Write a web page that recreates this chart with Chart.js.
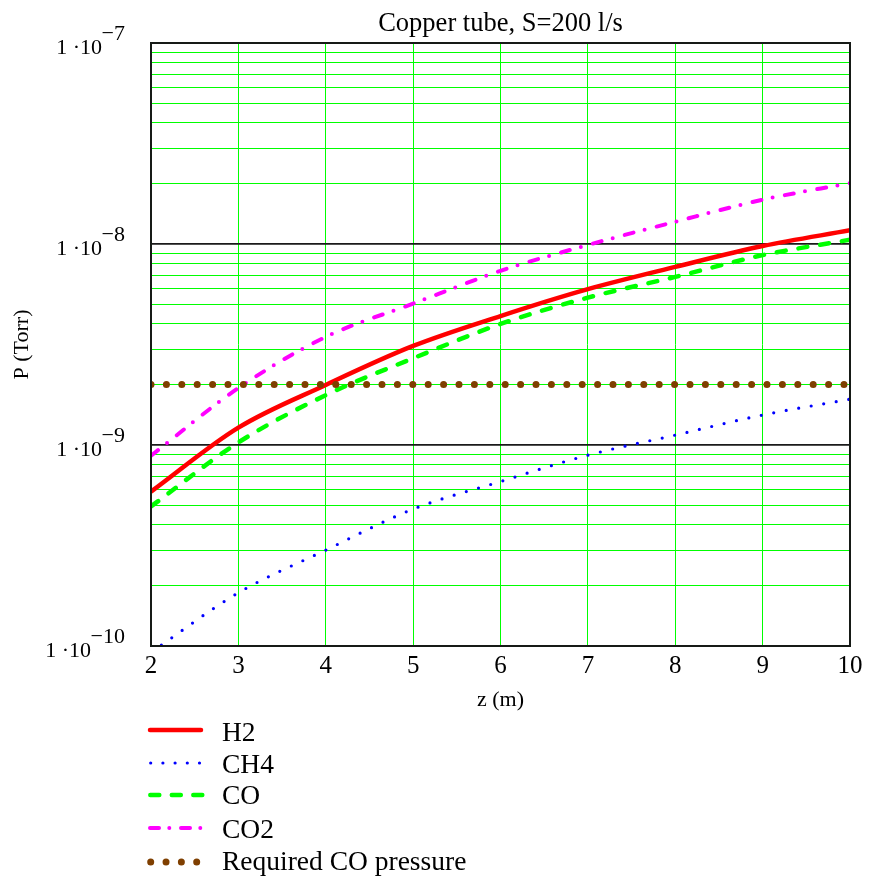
<!DOCTYPE html>
<html><head><meta charset="utf-8">
<script src="https://cdn.jsdelivr.net/npm/chart.js@4.4.1/dist/chart.umd.min.js"></script>
<style>
html,body{margin:0;padding:0;background:#fff;}
#wrap{position:relative;width:869px;height:880px;overflow:hidden;background:#fff;}
#c{position:absolute;left:0;top:0;}
.lg-s{position:absolute;left:145px;width:62px;height:12px;}
.lg-t{position:absolute;left:222px;font-family:'Liberation Serif','Times New Roman',serif;font-size:27.5px;line-height:28px;white-space:nowrap;color:#000;}
</style></head><body>
<div id="wrap"><canvas id="c" width="869" height="880"></canvas><div id="legend"></div></div>
<script>
// ---- data ----
const zValues   = [2, 3, 4, 5, 6, 7, 8, 9, 10];
const h2Values  = [5.86e-10, 1.22e-9, 1.99e-9, 3.11e-9, 4.38e-9, 5.96e-9, 7.69e-9, 9.77e-9, 1.17e-8];
const ch4Values = [9.3e-11, 1.84e-10, 3.0e-10, 4.8e-10, 6.58e-10, 8.9e-10, 1.12e-9, 1.41e-9, 1.69e-9];
const coValues  = [4.95e-10, 1.03e-9, 1.77e-9, 2.7e-9, 4.0e-9, 5.41e-9, 6.86e-9, 8.8e-9, 1.05e-8];
const co2Values = [8.85e-10, 1.92e-9, 3.45e-9, 5.05e-9, 7.35e-9, 9.89e-9, 1.29e-8, 1.66e-8, 2.01e-8];
const reqValues = [2e-9, 2e-9, 2e-9, 2e-9, 2e-9, 2e-9, 2e-9, 2e-9, 2e-9];
const seriesLabels = ['H2', 'CH4', 'CO', 'CO2', 'Required CO pressure'];
const xTicks = [2, 3, 4, 5, 6, 7, 8, 9, 10];
const yDecades = [1e-10, 1e-9, 1e-8, 1e-7];
const yTickBase = '1 \u00b710';
const yTickExp = ['\u221210', '\u22129', '\u22128', '\u22127'];
const titleText = 'Copper tube, S=200 l/s';
const xTitle = 'z (m)';
const yTitle = 'P (Torr)';

// ---- helpers ----
const GREEN = '#00ff00';
const FONT = "'Liberation Serif','Times New Roman',serif";
const isDecade = v => Math.abs(Math.log10(v) - Math.round(Math.log10(v))) < 1e-6;
const yGridValues = [];
for (let d = 0; d < yDecades.length; d++) {
  const base = yDecades[d];
  if (d === yDecades.length - 1) { yGridValues.push(base); break; }
  for (let m = 1; m <= 9; m++) yGridValues.push(parseFloat((m * base).toPrecision(6)));
}
const mk = vals => zValues.map((z, i) => ({x: z, y: vals[i]}));

Chart.defaults.font.family = FONT;
Chart.defaults.color = '#000';

const yLabelPlugin = {
  id: 'yLabels',
  afterDraw(chart) {
    const ctx = chart.ctx, ys = chart.scales.y;
    ctx.save();
    ctx.fillStyle = '#000';
    ctx.textBaseline = 'alphabetic';
    ctx.textAlign = 'right';
    ctx.font = '22px ' + FONT;
    yDecades.forEach((v, i) => {
      const py = ys.getPixelForValue(v);
      const ew = ctx.measureText(yTickExp[i]).width;
      ctx.fillText(yTickExp[i], 125, py - 3);
      ctx.fillText(yTickBase, 125 - ew + 0.5, py + 10.5);
    });
    ctx.restore();
  }
};
const borderPlugin = {
  id: 'plotBorder',
  afterDatasetsDraw(chart) {
    const a = chart.chartArea, ctx = chart.ctx;
    ctx.save();
    ctx.strokeStyle = '#161a16';
    ctx.lineWidth = 2;
    ctx.strokeRect(a.left, a.top, a.right - a.left, a.bottom - a.top);
    ctx.restore();
  }
};

const common = {pointRadius: 0, pointHoverRadius: 0, fill: false, cubicInterpolationMode: 'monotone', borderCapStyle: 'round', borderJoinStyle: 'round'};

new Chart(document.getElementById('c'), {
  type: 'line',
  data: {
    datasets: [
      Object.assign({}, common, {label: seriesLabels[0], data: mk(h2Values), borderColor: '#ff0000', borderWidth: 4.5, order: 4, borderCapStyle: 'butt'}),
      Object.assign({}, common, {label: seriesLabels[1], data: mk(ch4Values), borderColor: '#0000ff', borderWidth: 3.2, borderDash: [0, 12.7], order: 3}),
      Object.assign({}, common, {label: seriesLabels[2], data: mk(coValues), borderColor: '#00ff00', borderWidth: 4.5, borderDash: [9, 13], order: 2}),
      Object.assign({}, common, {label: seriesLabels[3], data: mk(co2Values), borderColor: '#ff00ff', borderWidth: 4, borderDash: [9, 11.5, 0, 12.5], order: 1}),
      Object.assign({}, common, {label: seriesLabels[4], data: mk(reqValues), borderColor: '#7f3f00', borderWidth: 7, borderDash: [0, 15.4], order: 0, cubicInterpolationMode: 'default', tension: 0})
    ]
  },
  options: {
    responsive: false,
    animation: false,
    events: [],
    layout: {padding: {left: 0, right: 19, top: 0, bottom: 154}},
    plugins: {
      legend: {display: false},
      tooltip: {enabled: false},
      title: {display: true, text: titleText, fullSize: false, color: '#000',
              font: {size: 26.5, weight: 'normal', family: FONT}, padding: {top: 8, bottom: 3.2}}
    },
    scales: {
      x: {
        type: 'linear', min: 2, max: 10,
        afterBuildTicks: s => { s.ticks = xTicks.map(v => ({value: v})); },
        ticks: {font: {size: 25}, padding: 5, maxRotation: 0, autoSkip: false, color: '#000'},
        grid: {color: GREEN, lineWidth: 1, drawTicks: false},
        border: {display: false},
        title: {display: true, text: xTitle, color: '#000', font: {size: 22}, padding: {top: 0, bottom: 13}},
        afterFit: s => { s.height = 80; }
      },
      y: {
        type: 'logarithmic', min: 1e-10, max: 1e-7,
        afterBuildTicks: s => { s.ticks = yGridValues.map(v => ({value: v})); },
        ticks: {display: false, autoSkip: false},
        grid: {color: c => isDecade(c.tick.value) ? '#1a1a1a' : GREEN,
               lineWidth: c => isDecade(c.tick.value) ? 1.8 : 1, drawTicks: false},
        border: {display: false},
        title: {display: true, text: yTitle, color: '#000', font: {size: 22}, padding: {top: 9, bottom: 0}},
        afterFit: s => { s.width = 151; }
      }
    }
  },
  plugins: [yLabelPlugin, borderPlugin]
});

// ---- HTML legend ----
const legendRows = [
  {label: seriesLabels[0], lineY: 728, textY: 732.5, svg: '<line x1="5" y1="6" x2="56" y2="6" stroke="#ff0000" stroke-width="4.5" stroke-linecap="round"/>'},
  {label: seriesLabels[1], lineY: 761, textY: 764.5, svg: '<line x1="5.7" y1="6" x2="55" y2="6" stroke="#0000ff" stroke-width="3.2" stroke-linecap="round" stroke-dasharray="0 12.2"/>'},
  {label: seriesLabels[2], lineY: 793, textY: 795, svg: '<line x1="5.3" y1="6" x2="57.5" y2="6" stroke="#00ff00" stroke-width="4.5" stroke-linecap="round" stroke-dasharray="9 12.5"/>'},
  {label: seriesLabels[3], lineY: 826, textY: 829, svg: '<line x1="5" y1="6" x2="56" y2="6" stroke="#ff00ff" stroke-width="4" stroke-linecap="round" stroke-dasharray="9 10.3 0 11.7"/>'},
  {label: seriesLabels[4], lineY: 860, textY: 861, svg: '<line x1="5.7" y1="6" x2="52" y2="6" stroke="#7f3f00" stroke-width="7" stroke-linecap="round" stroke-dasharray="0 15.33"/>'}
];
const lg = document.getElementById('legend');
legendRows.forEach(r => {
  const s = document.createElement('div');
  s.className = 'lg-s';
  s.style.top = (r.lineY - 6) + 'px';
  s.innerHTML = '<svg width="62" height="12" xmlns="http://www.w3.org/2000/svg">' + r.svg + '</svg>';
  lg.appendChild(s);
  const t = document.createElement('div');
  t.className = 'lg-t';
  t.style.top = (r.textY - 14.1) + 'px';
  t.textContent = r.label;
  lg.appendChild(t);
});
</script>
</body></html>
